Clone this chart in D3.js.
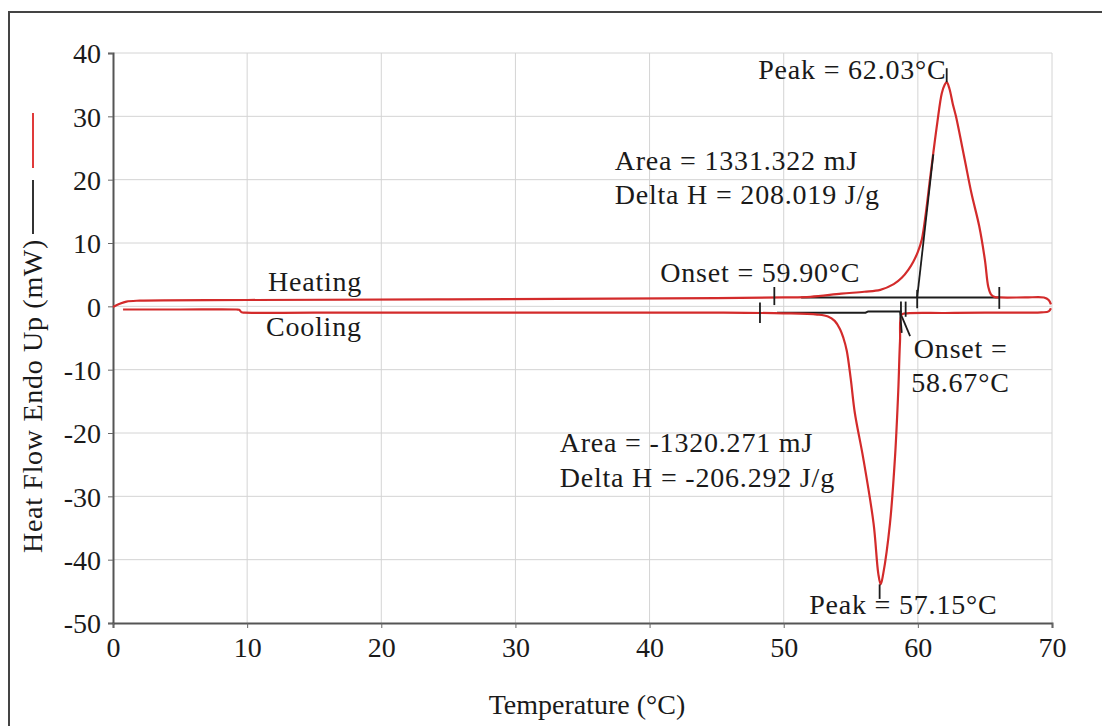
<!DOCTYPE html>
<html>
<head>
<meta charset="utf-8">
<script src="https://cdn.jsdelivr.net/npm/d3@7"></script>
<style>
	body { margin: 0; background: #fff; }
	text { font-family: "Liberation Serif", "Times New Roman", serif; fill: #1a1a1a; }
	.grid line { stroke: #d4d4d4; stroke-width: 1; }
	.note { font-size: 28px; letter-spacing: 0.8px; }
</style>
</head>
<body>
<div id="chart"></div>
<script>
// data
// ----------------------------------------

var xTicks = [0, 10, 20, 30, 40, 50, 60, 70];
var yTicks = [40, 30, 20, 10, 0, -10, -20, -30, -40, -50];

// heating run, temperature (°C) / heat flow (mW)
var heatT  = [0, 0.5, 1, 2, 10, 25, 45, 50, 52, 54.3, 56, 57.2, 58.2, 58.8, 59.3, 59.65, 60.0, 60.3, 60.6, 60.9, 61.15, 61.45, 61.78, 62.0, 62.15, 62.35, 62.6, 62.84, 63.5, 64.0, 64.58, 65.0, 65.25, 65.45, 65.75, 66.1, 68, 69.4, 69.75, 69.92];
var heatHF = [-0.1, 0.4, 0.75, 0.9, 1.0, 1.1, 1.3, 1.4, 1.5, 2.0, 2.3, 2.6, 3.5, 4.5, 5.8, 7.0, 8.6, 10.6, 14.8, 20.0, 24.2, 29.0, 33.6, 35.0, 35.4, 34.4, 32.0, 30.0, 23.1, 17.8, 12.6, 7.3, 3.1, 1.9, 1.45, 1.4, 1.4, 1.4, 1.0, 0.3];

// cooling run, back down from 70 °C
var coolT  = [69.92, 69.75, 69.2, 65, 62, 59.2, 58.8, 58.67, 58.54, 58.3, 57.92, 57.42, 57.23, 57.05, 56.7, 55.93, 55.3, 55.0, 54.7, 54.45, 54.2, 53.8, 53.3, 52.5, 50, 45, 30, 15, 9.8, 9.6, 9.4, 9.2, 5, 0.75];
var coolHF = [-0.3, -0.8, -0.95, -1.0, -1.05, -1.1, -1.3, -5.5, -13.3, -23.7, -34.3, -42.2, -43.9, -42.2, -34.3, -24.0, -16.8, -11.5, -7.0, -5.0, -3.6, -2.3, -1.6, -1.3, -1.1, -1.0, -1.0, -1.0, -1.0, -0.95, -0.55, -0.5, -0.5, -0.5];

// analysis marks (black)
var heatBaseT = [51.3, 66.1], heatBaseHF = [1.4, 1.4];
var heatTanT = [59.95, 61.15], heatTanHF = [1.4, 24];
var coolBaseT = [49.5, 56.1, 56.3, 58.8], coolBaseHF = [-1.0, -1.0, -0.8, -0.8];
var coolTanT = [58.67, 58.8], coolTanHF = [-0.8, -4.2];
var coolLeadT = [58.8, 59.42], coolLeadHF = [-1.6, -4.7];
// vertical markers: temperature, from, to
var markT    = [49.3, 66.07, 59.95, 48.23, 58.74, 59.09, 62.15, 57.15];
var markFrom = [3.05, 3.05, 2.6, 0.6, 0.75, 0.75, 35.4, -43.9];
var markTo   = [0.2, -0.4, -0.3, -2.65, -1.65, -1.65, 37.6, -46.2];

var notes = ["Peak = 62.03°C", "Area = 1331.322 mJ", "Delta H = 208.019 J/g", "Onset = 59.90°C",
	"Heating", "Cooling", "Onset =", "58.67°C", "Area = -1320.271 mJ", "Delta H = -206.292 J/g", "Peak = 57.15°C"];
var noteT  = [48.1, 37.4, 37.4, 40.8, 11.55, 11.4, 59.7, 59.5, 33.3, 33.3, 51.9];
var noteHF = [35.9, 21.5, 16.1, 3.8, 2.4, -4.7, -8.1, -13.6, -23.0, -28.5, -48.5];

// main variables
// ----------------------------------------

var width = 1102, height = 726;

var svg = d3.select("#chart").append("svg")
	.attr("width", width)
	.attr("height", height);

// outer frame
svg.append("rect")
	.attr("x", 9).attr("y", 12)
	.attr("width", 1110).attr("height", 740)
	.attr("fill", "none")
	.attr("stroke", "#444")
	.attr("stroke-width", 2);

var x = d3.scaleLinear().domain([0, 70]).range([113, 1052]);
var y = d3.scaleLinear().domain([-50, 40]).range([623, 53]);

// grid
var grid = svg.append("g").attr("class", "grid");
grid.selectAll(".gx").data(xTicks.slice(1)).enter().append("line")
	.attr("x1", d => x(d)).attr("x2", d => x(d))
	.attr("y1", y(40)).attr("y2", y(-50));
grid.selectAll(".gy").data(yTicks.slice(0, -1)).enter().append("line")
	.attr("x1", x(0)).attr("x2", x(70))
	.attr("y1", d => y(d)).attr("y2", d => y(d));

// axes (plain hyphen for negatives, like the original)
var yAxis = svg.append("g")
	.attr("transform", "translate(" + x(0) + ",0)")
	.call(d3.axisLeft(y).tickValues(yTicks).tickFormat(d => String(d)).tickSize(5).tickPadding(7));
var xAxis = svg.append("g")
	.attr("transform", "translate(0," + y(-50) + ")")
	.call(d3.axisBottom(x).tickValues(xTicks).tickFormat(d => String(d)).tickSize(5).tickPadding(8));

[xAxis, yAxis].forEach(function(a){
	a.select(".domain").attr("stroke", "#555").attr("stroke-width", 2);
	a.selectAll(".tick line").attr("stroke", "#666");
	a.selectAll(".tick text")
		.attr("fill", "#1a1a1a")
		.style("font-family", "'Liberation Serif', serif")
		.style("font-size", "28px");
});
xAxis.selectAll(".tick text").attr("dy", "0.75em");
yAxis.selectAll(".tick text").attr("dy", "0.35em");

// axis titles
svg.append("text")
	.attr("x", 587).attr("y", 714)
	.attr("text-anchor", "middle")
	.style("font-size", "28px")
	.text("Temperature (°C)");

svg.append("text")
	.attr("transform", "translate(42,553) rotate(-90)")
	.style("font-size", "28px")
	.style("letter-spacing", "0.7px")
	.text("Heat Flow Endo Up (mW)");

// legend strokes next to y title
svg.append("line").attr("x1", 33).attr("x2", 33).attr("y1", 113).attr("y2", 168)
	.attr("stroke", "#e03a3a").attr("stroke-width", 2);
svg.append("line").attr("x1", 33).attr("x2", 33).attr("y1", 180).attr("y2", 234)
	.attr("stroke", "#333").attr("stroke-width", 2);

// curves
var line = d3.line()
	.x(d => x(d[0]))
	.y(d => y(d[1]))
	.curve(d3.curveCatmullRom.alpha(0.5));

var plain = d3.line()
	.x(d => x(d[0]))
	.y(d => y(d[1]));

function pairs(a, b){ return a.map((v, i) => [v, b[i]]); }

var ink = svg.append("g").attr("fill", "none").attr("stroke", "#1c1c1c").attr("stroke-width", 2);
ink.append("path").attr("d", plain(pairs(heatBaseT, heatBaseHF)));
ink.append("path").attr("d", plain(pairs(coolBaseT, coolBaseHF)));

var red = svg.append("g").attr("fill", "none").attr("stroke", "#d32b2b").attr("stroke-width", 2.2)
	.attr("stroke-linejoin", "round");
red.append("path").attr("d", line(pairs(heatT, heatHF)));
red.append("path").attr("d", line(pairs(coolT, coolHF)));

var ink2 = svg.append("g").attr("fill", "none").attr("stroke", "#1c1c1c").attr("stroke-width", 1.8);
ink2.append("path").attr("d", plain(pairs(heatTanT, heatTanHF)));
ink2.append("path").attr("d", plain(pairs(coolTanT, coolTanHF)));
ink2.append("path").attr("d", plain(pairs(coolLeadT, coolLeadHF)));
ink2.selectAll(".mark").data(markT).enter().append("line")
	.attr("x1", d => x(d)).attr("x2", d => x(d))
	.attr("y1", (d, i) => y(markFrom[i])).attr("y2", (d, i) => y(markTo[i]));

// annotations
svg.selectAll(".note").data(notes).enter().append("text")
	.attr("class", "note")
	.attr("x", (d, i) => x(noteT[i]))
	.attr("y", (d, i) => y(noteHF[i]))
	.text(d => d);
</script>
</body>
</html>
